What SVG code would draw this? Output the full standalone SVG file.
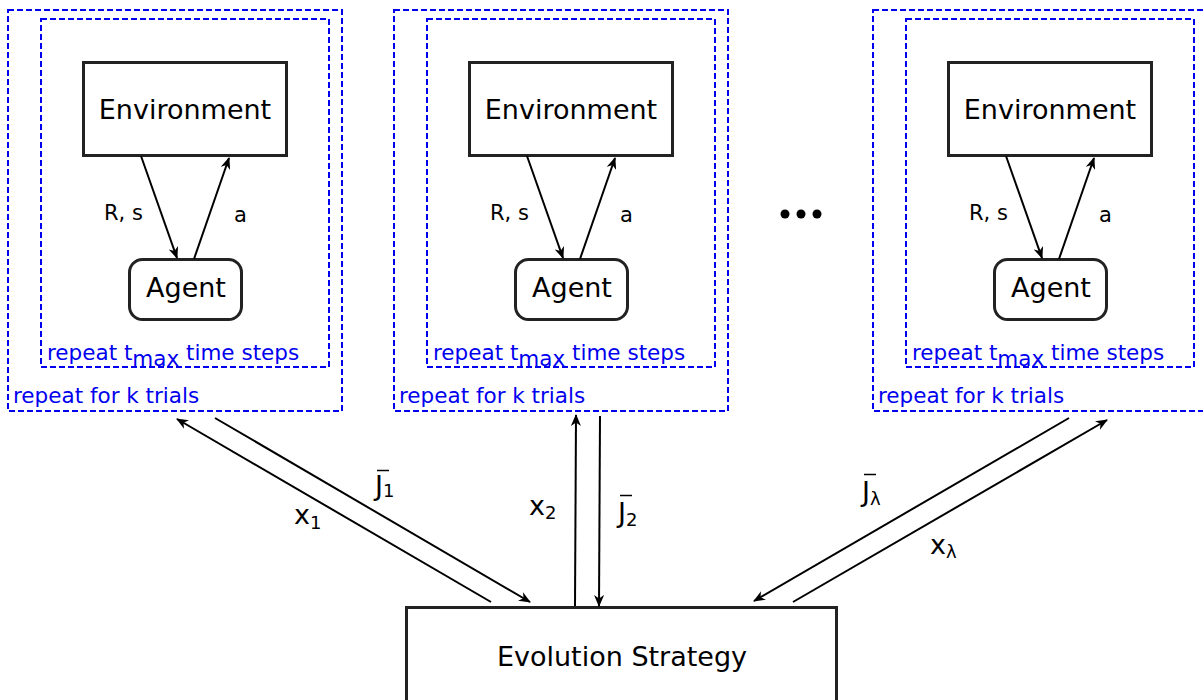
<svg xmlns="http://www.w3.org/2000/svg" width="1203" height="700" viewBox="0 0 1203 700">
  <style>
    text { font-family: "DejaVu Sans", "Liberation Sans", sans-serif; fill: #000; }
    .box { fill: #fff; stroke: #222; stroke-width: 3; }
    .loop { fill: none; stroke: #0000ee; stroke-width: 2; stroke-dasharray: 6 3; }
    .loopText { fill: #0000ee; font-size: 21.5px; }
    .nodeText { font-size: 27px; text-anchor: middle; }
    .small { font-size: 21px; }
    .conn { fill: none; stroke: #000; stroke-width: 2; }
    .bar { stroke: #000; stroke-width: 1.5; }
    .sym { font-size: 27px; }
    .sub { font-size: 18px; }
  </style>
  <defs>
    <marker id="arrow" viewBox="0 0 12 10" refX="11" refY="5" markerWidth="12" markerHeight="10" markerUnits="userSpaceOnUse" orient="auto">
      <path d="M0,0 L12,5 L0,10 L3.5,5 z" fill="#000"/>
    </marker>
    <!-- one agent/environment loop nested in its trial loop -->
    <g id="trialPanel">
      <rect class="loop" x="8" y="10" width="334" height="401"/>
      <rect class="loop" x="41" y="19" width="288" height="348"/>
      <rect class="box" x="83.5" y="62.5" width="203" height="93"/>
      <text class="nodeText" x="185" y="119">Environment</text>
      <rect class="box" x="129.5" y="259.5" width="112" height="60" rx="13"/>
      <text class="nodeText" x="186" y="297">Agent</text>
      <line class="conn" x1="141" y1="156" x2="177" y2="258" marker-end="url(#arrow)"/>
      <line class="conn" x1="194" y1="259" x2="229" y2="158" marker-end="url(#arrow)"/>
      <text class="small" x="104" y="220">R, s</text>
      <text class="small" x="234" y="222">a</text>
      <text class="loopText" x="47" y="360">repeat t<tspan dy="6">max</tspan><tspan dy="-6"> time steps</tspan></text>
      <text class="loopText" x="13" y="403">repeat for k trials</text>
    </g>
  </defs>

  <g id="panel-1"><use href="#trialPanel"/></g>
  <g id="panel-2"><use href="#trialPanel" x="386"/></g>
  <g id="panel-lambda"><use href="#trialPanel" x="865"/></g>

  <g id="ellipsis">
    <circle cx="785" cy="214" r="4.5" fill="#000"/>
    <circle cx="801" cy="214" r="4.5" fill="#000"/>
    <circle cx="817" cy="214" r="4.5" fill="#000"/>
  </g>

  <g id="evolution-strategy">
    <rect class="box" x="406.5" y="607.5" width="430" height="110"/>
    <text class="nodeText" x="622" y="666">Evolution Strategy</text>
  </g>

  <g id="connectors">
    <line class="conn" x1="491" y1="602" x2="177" y2="419" marker-end="url(#arrow)"/>
    <line class="conn" x1="215" y1="418" x2="530" y2="602" marker-end="url(#arrow)"/>
    <line class="conn" x1="575" y1="606" x2="576" y2="415" marker-end="url(#arrow)"/>
    <line class="conn" x1="600" y1="416" x2="599" y2="606" marker-end="url(#arrow)"/>
    <line class="conn" x1="1069" y1="418" x2="754" y2="601" marker-end="url(#arrow)"/>
    <line class="conn" x1="793" y1="602" x2="1107" y2="420" marker-end="url(#arrow)"/>
  </g>

  <g id="labels">
    <text class="sym" x="294" y="524">x<tspan class="sub" dy="5">1</tspan></text>
    <text class="sym" x="375" y="495">J<tspan class="sub" dy="2">1</tspan></text>
    <line class="bar" x1="377" y1="470.5" x2="389" y2="470.5"/>
    <text class="sym" x="529" y="515">x<tspan class="sub" dy="4">2</tspan></text>
    <text class="sym" x="618" y="522">J<tspan class="sub" dy="4">2</tspan></text>
    <line class="bar" x1="620" y1="495.5" x2="632" y2="495.5"/>
    <text class="sym" x="862" y="501">J<tspan class="sub" dy="4">λ</tspan></text>
    <line class="bar" x1="864" y1="474.5" x2="876" y2="474.5"/>
    <text class="sym" x="930" y="554">x<tspan class="sub" dy="4">λ</tspan></text>
  </g>
</svg>
